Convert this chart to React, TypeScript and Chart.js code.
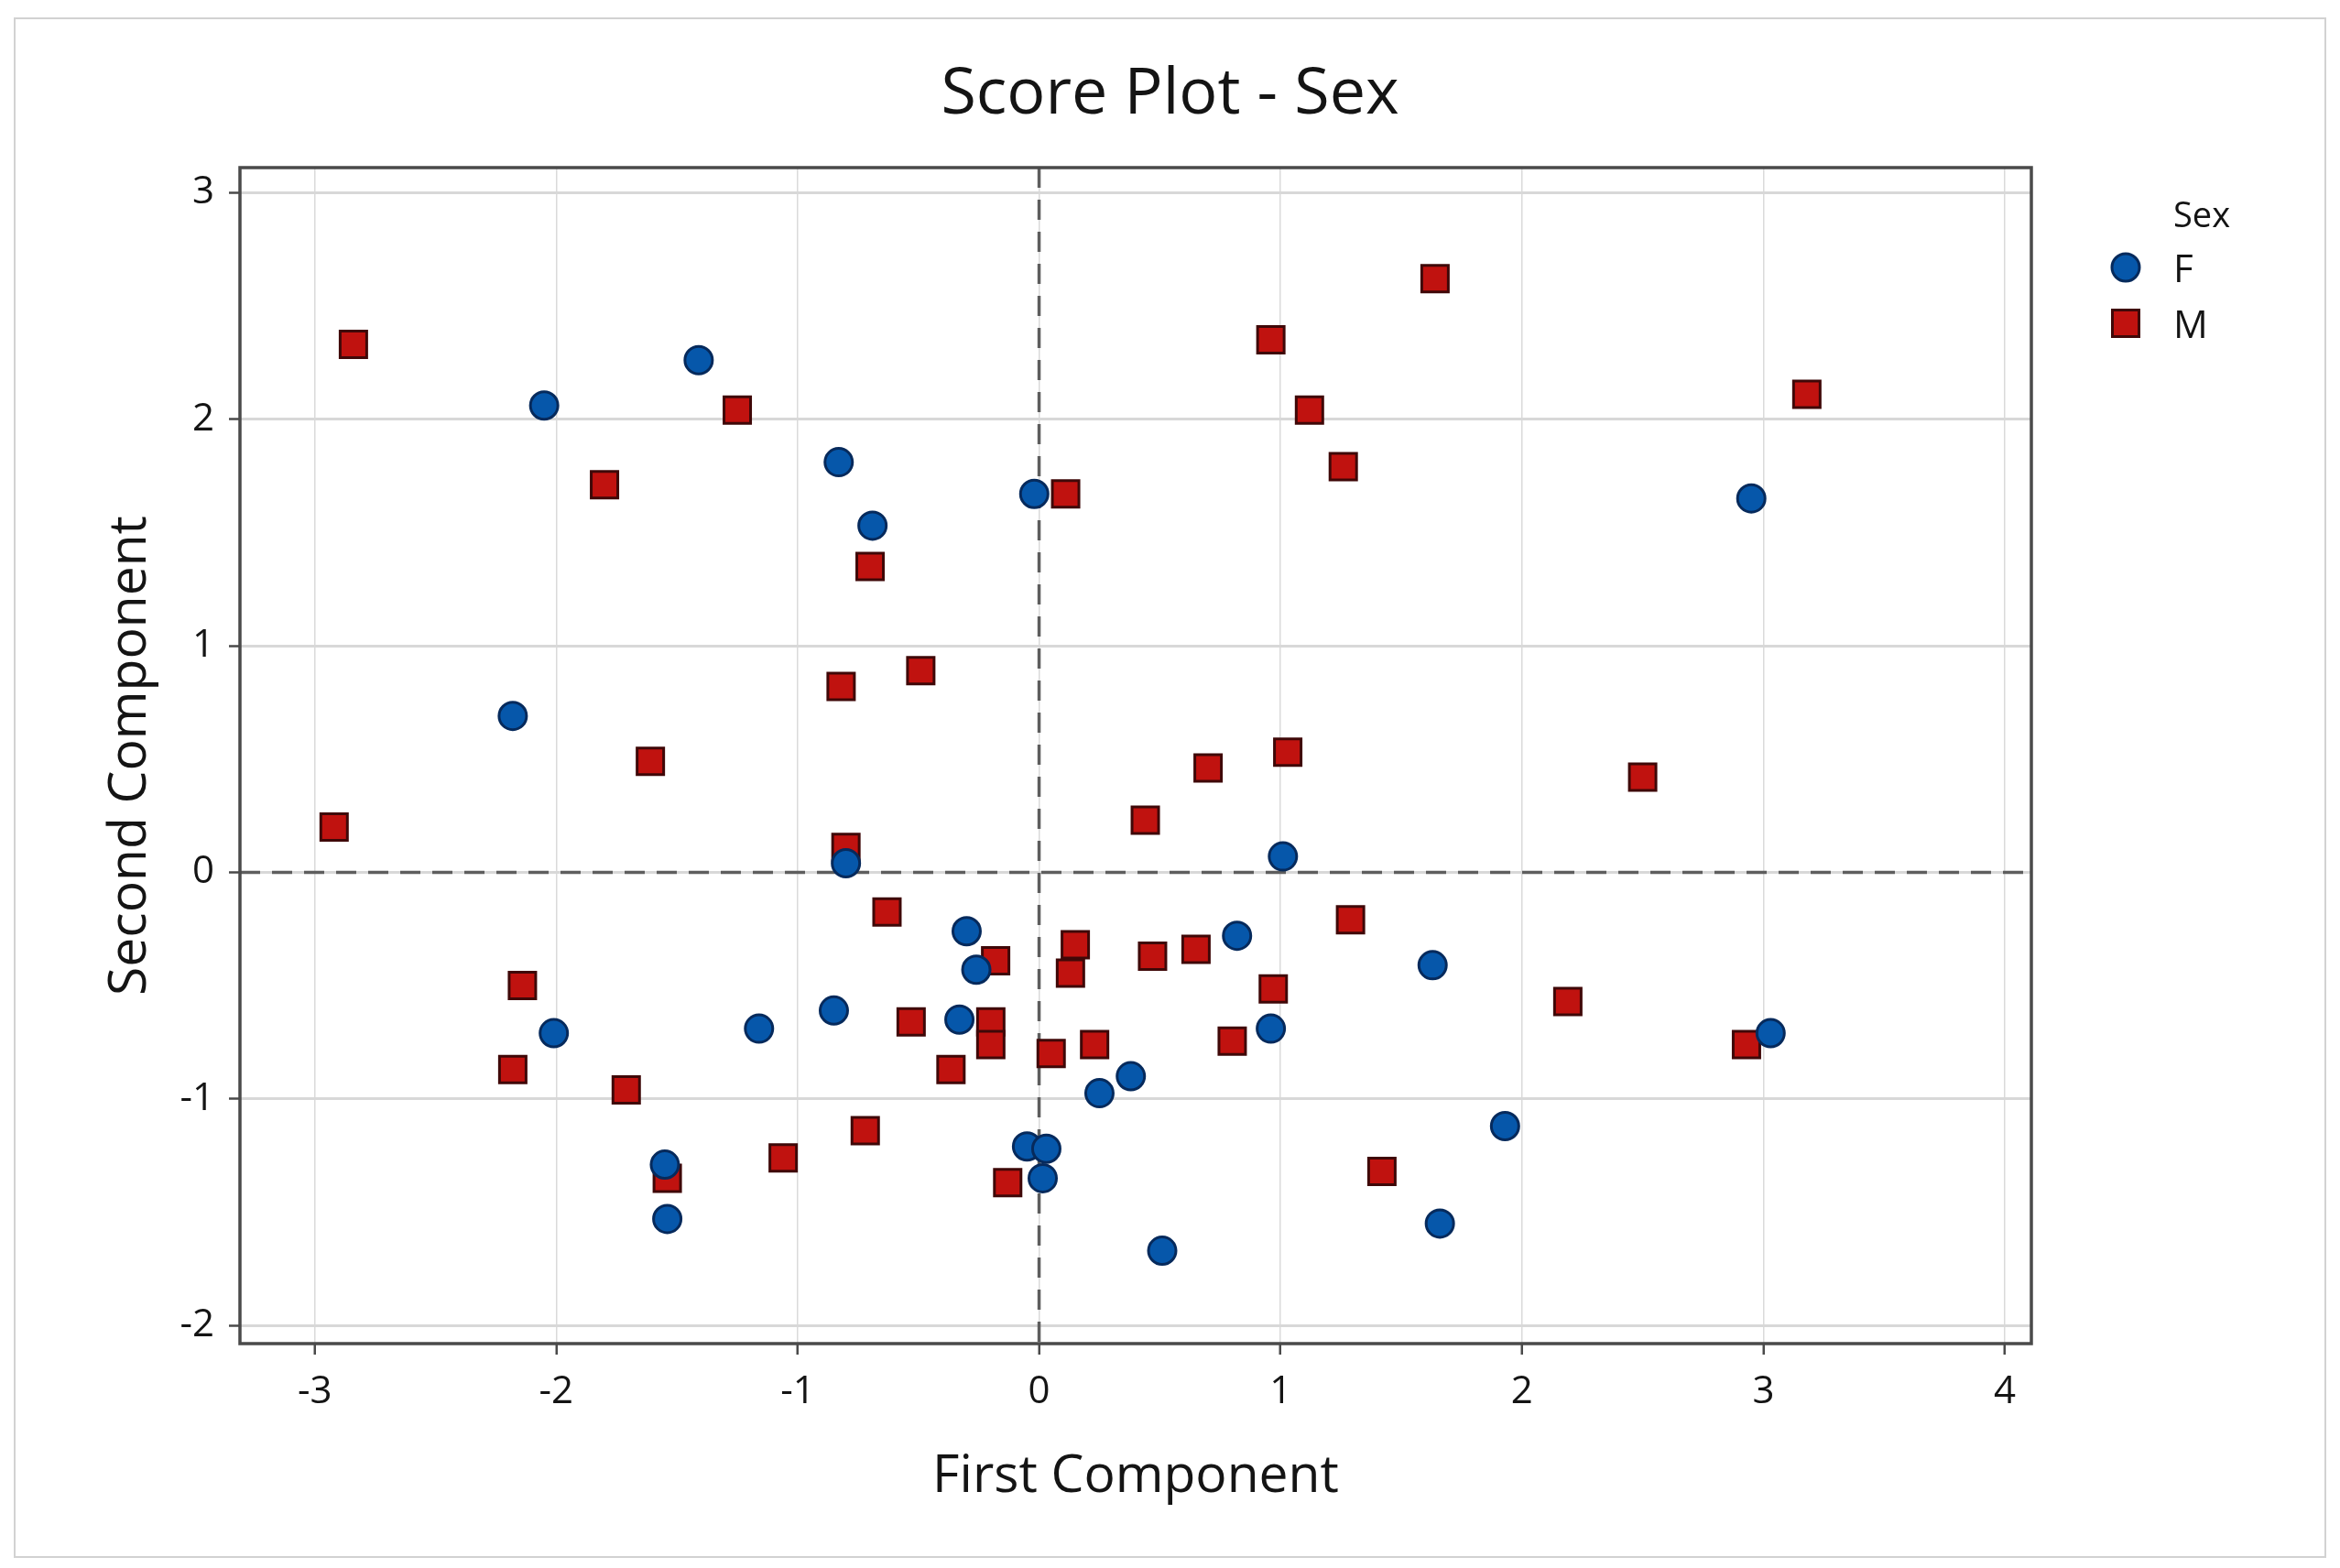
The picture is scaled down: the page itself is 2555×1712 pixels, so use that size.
import React, { useEffect, useRef } from "react";
import { Chart, registerables } from "chart.js";

Chart.register(...registerables);

// ---- data ----
const seriesNames = ["F", "M"];
const legendTitle = "Sex";
const chartTitle = "Score Plot - Sex";
const xAxisTitle = "First Component";
const yAxisTitle = "Second Component";

const xTickValues = [-3, -2, -1, 0, 1, 2, 3, 4];
const yTickValues = [-2, -1, 0, 1, 2, 3];

const femaleX = [-2.05, -1.41, -0.83, -0.69, -0.02, 2.95, -2.18, -0.80, 1.01, -0.30, -0.26, 0.82, 1.63, -2.01, -1.16, -0.85, -0.33, 0.96, 3.03, 0.38, 0.25, 1.93, -0.05, 0.03, 0.015, -1.55, -1.54, 1.66, 0.51];
const femaleY = [2.06, 2.26, 1.81, 1.53, 1.67, 1.65, 0.69, 0.04, 0.07, -0.26, -0.43, -0.28, -0.41, -0.71, -0.69, -0.61, -0.65, -0.69, -0.71, -0.90, -0.975, -1.12, -1.21, -1.22, -1.35, -1.29, -1.53, -1.55, -1.67];

const maleX = [-2.84, -1.25, -1.80, 0.11, -0.70, -0.82, -0.49, -1.61, -2.92, -0.80, 1.64, 0.96, 1.12, 1.26, 3.18, 0.70, 1.03, 2.50, 0.44, -0.63, 1.29, -2.14, -0.18, 0.15, 0.13, 0.47, 0.65, 0.97, 2.19, -0.53, -0.20, -0.20, 0.05, 0.23, 0.80, 2.93, -2.18, -1.71, -0.365, -0.72, -1.06, -1.54, -0.13, 1.42];
const maleY = [2.33, 2.04, 1.71, 1.67, 1.35, 0.82, 0.89, 0.49, 0.20, 0.11, 2.62, 2.35, 2.04, 1.79, 2.11, 0.46, 0.53, 0.42, 0.23, -0.175, -0.21, -0.50, -0.39, -0.32, -0.445, -0.37, -0.34, -0.515, -0.57, -0.66, -0.66, -0.76, -0.80, -0.76, -0.745, -0.76, -0.87, -0.96, -0.87, -1.14, -1.26, -1.35, -1.37, -1.32];

const FONT = "'Open Sans', 'Noto Sans', sans-serif";
const TEXT = "#141414";
const blueFill = "#0657AA";
const blueEdge = "#062a5c";
const redFill = "#C0120F";
const redEdge = "#3f0808";

const decorPlugin = {
  id: "decor",
  beforeDraw(chart: any) {
    const { ctx, width, height } = chart;
    ctx.save();
    ctx.fillStyle = "#ffffff";
    ctx.fillRect(0, 0, width, height);
    ctx.strokeStyle = "#d2d2d2";
    ctx.lineWidth = 2;
    ctx.strokeRect(16, 20, 2523, 1680);
    ctx.restore();
  },
  beforeDatasetsDraw(chart: any) {
    const { ctx, chartArea } = chart;
    const xs = chart.scales.x;
    const ys = chart.scales.y;
    ctx.save();
    // zero reference lines
    ctx.strokeStyle = "#5e5e5e";
    ctx.lineWidth = 3.5;
    ctx.setLineDash([22, 13]);
    const x0 = xs.getPixelForValue(0);
    const y0 = ys.getPixelForValue(0);
    ctx.beginPath();
    ctx.moveTo(x0, chartArea.top);
    ctx.lineTo(x0, chartArea.bottom);
    ctx.moveTo(chartArea.left, y0);
    ctx.lineTo(chartArea.right, y0);
    ctx.stroke();
    ctx.setLineDash([]);
    // frame
    ctx.strokeStyle = "#4a4a4a";
    ctx.lineWidth = 3.5;
    ctx.strokeRect(chartArea.left, chartArea.top, chartArea.right - chartArea.left, chartArea.bottom - chartArea.top);
    ctx.restore();
  },
  afterDraw(chart: any) {
    const { ctx } = chart;
    ctx.save();
    ctx.fillStyle = TEXT;
    ctx.textAlign = "left";
    ctx.textBaseline = "middle";
    ctx.font = `38px ${FONT}`;
    ctx.fillText(legendTitle, 2373, 237);
    const rows = [296, 357];
    chart.data.datasets.forEach((ds: any, i: number) => {
      const y = rows[i];
      ctx.fillStyle = ds.backgroundColor;
      ctx.strokeStyle = ds.borderColor;
      ctx.lineWidth = 3;
      ctx.beginPath();
      if (ds.pointStyle === "circle") {
        ctx.arc(2321, y - 4, 15, 0, Math.PI * 2);
      } else {
        ctx.rect(2321 - 14.5, y - 4 - 14.5, 29, 29);
      }
      ctx.fill();
      ctx.stroke();
      ctx.fillStyle = TEXT;
      ctx.font = `42px ${FONT}`;
      ctx.fillText(ds.label, 2373, y);
    });
    ctx.restore();
  },
};

export default function App() {
  const canvasRef = useRef<HTMLCanvasElement | null>(null);

  useEffect(() => {
    if (!canvasRef.current) return;
    const femalePts = femaleX.map((x, i) => ({ x, y: femaleY[i] }));
    const malePts = maleX.map((x, i) => ({ x, y: maleY[i] }));

    const chart = new Chart(canvasRef.current, {
      type: "scatter",
      data: {
        datasets: [
          {
            label: seriesNames[0],
            data: femalePts,
            pointStyle: "circle",
            pointRadius: 15,
            pointHoverRadius: 15,
            backgroundColor: blueFill,
            borderColor: blueEdge,
            pointBorderWidth: 3,
          } as any,
          {
            label: seriesNames[1],
            data: malePts,
            pointStyle: "rect",
            pointRadius: 20.5,
            pointHoverRadius: 20.5,
            backgroundColor: redFill,
            borderColor: redEdge,
            pointBorderWidth: 3,
          } as any,
        ],
      },
      options: {
        animation: false,
        responsive: false,
        devicePixelRatio: 1,
        events: [],
        layout: { padding: 0 },
        plugins: {
          legend: { display: false },
          tooltip: { enabled: false },
          title: {
            display: true,
            text: chartTitle,
            color: TEXT,
            font: { family: FONT, size: 70, weight: "normal", lineHeight: 1.2 },
            padding: { top: 62, bottom: 37 },
          },
        },
        scales: {
          x: {
            type: "linear",
            position: "bottom",
            min: -3.31,
            max: 4.11,
            afterBuildTicks: (s: any) => {
              s.ticks = xTickValues.map((v) => ({ value: v }));
            },
            afterFit: (s: any) => {
              s.height = 245;
            },
            border: { display: false },
            grid: {
              color: "#dadada",
              lineWidth: 1.5,
              tickLength: 12,
              tickColor: "#4a4a4a",
              tickWidth: 2.5,
            },
            ticks: {
              includeBounds: false,
              color: TEXT,
              padding: 16,
              font: { family: FONT, size: 42 },
              callback: (v: any) => String(v),
            },
            title: {
              display: true,
              text: xAxisTitle,
              color: TEXT,
              font: { family: FONT, size: 57, lineHeight: 1.2 },
              padding: { top: 0, bottom: 65 },
            },
          },
          y: {
            type: "linear",
            position: "left",
            min: -2.08,
            max: 3.11,
            afterBuildTicks: (s: any) => {
              s.ticks = yTickValues.map((v) => ({ value: v }));
            },
            afterFit: (s: any) => {
              s.width = 262;
            },
            border: { display: false },
            grid: {
              color: "#d8d8d8",
              lineWidth: 3,
              tickLength: 12,
              tickColor: "#4a4a4a",
              tickWidth: 2.5,
            },
            ticks: {
              includeBounds: false,
              color: TEXT,
              padding: 16,
              font: { family: FONT, size: 42 },
              callback: (v: any) => String(v),
            },
            title: {
              display: true,
              text: yAxisTitle,
              color: TEXT,
              font: { family: FONT, size: 57, lineHeight: 1.2 },
              padding: { top: 109, bottom: 0 },
            },
          },
          yRight: {
            type: "linear",
            position: "right",
            axis: "y",
            display: true,
            afterFit: (s: any) => {
              s.width = 337;
            },
            border: { display: false },
            grid: { display: false, drawTicks: false },
            ticks: { display: false },
          } as any,
        },
      } as any,
      plugins: [decorPlugin],
    });
    return () => chart.destroy();
  }, []);

  return (
    <div style={{ position: "fixed", left: 0, top: 0, width: 2555, height: 1712, background: "#ffffff" }}>
      <canvas ref={canvasRef} width={2555} height={1712} style={{ width: 2555, height: 1712, display: "block" }} />
    </div>
  );
}
